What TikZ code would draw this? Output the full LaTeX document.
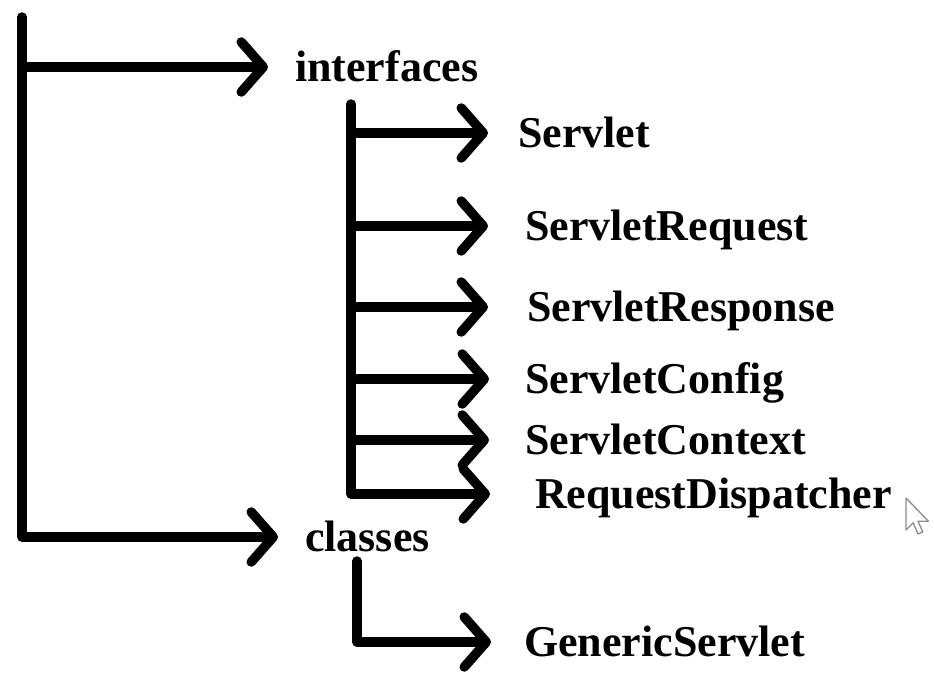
\documentclass[tikz,border=0pt]{standalone}
\usepackage{fontspec}
\setmainfont{Liberation Serif}
\usetikzlibrary{arrows.meta}
\begin{document}
\begin{tikzpicture}[x=1pt, y=-1pt,
  bar/.style={line width=9.5pt, line cap=round, line join=round},
  link/.style={bar, -{Straight Barb[length=22pt, width=50pt, round]}},
  % the west anchor of a label is where its arrow ends; outer xsep is the gap
  lbl/.style={anchor=west, inner sep=0pt, text height=29pt, text depth=0pt,
    font=\bfseries\fontsize{44}{50}\selectfont},
  pointer/.style={draw=black!45, fill=white, line width=1.3pt, line join=round},
]
\useasboundingbox (0,0) rectangle (934,675);

% labels
\node[lbl, outer xsep=27pt] (interfaces) at (268,67)  {interfaces};
\node[lbl, outer xsep=30pt] (servlet)    at (488,133) {Servlet};
\node[lbl, outer xsep=37pt] (request)    at (488,226) {ServletRequest};
\node[lbl, outer xsep=39pt] (response)   at (488,307) {ServletResponse};
\node[lbl, outer xsep=36pt] (config)     at (489,379) {ServletConfig};
\node[lbl, outer xsep=36pt] (context)    at (489,440) {ServletContext};
\node[lbl, outer xsep=45pt] (dispatcher) at (490,494) {RequestDispatcher};
\node[lbl, outer xsep=27pt] (classes)    at (278,537) {classes};
\node[lbl, outer xsep=33pt] (generic)    at (491,642) {GenericServlet};

% free upper ends of the trunks
\coordinate (root)   at (22,17);
\coordinate (ibus)   at (351,104);
\coordinate (cbus)   at (357,561);

% top level
\draw[link] (root) |- (classes.west);
\draw[link] (root |- interfaces.west) -- (interfaces.west);

% interfaces
\draw[link] (ibus) |- (dispatcher.west);
\foreach \n in {servlet, request, response, config, context}
  \draw[link] (ibus |- \n.west) -- (\n.west);

% classes
\draw[link] (cbus) |- (generic.west);

% mouse pointer
\draw[pointer, shift={(906,498)}, scale=1.6]
  (0,0) -- (0,20) -- (4.5,15.5) -- (7.5,22.5) -- (10.5,21.2)
  -- (7.5,14.5) -- (14,14.5) -- cycle;
\end{tikzpicture}
\end{document}
